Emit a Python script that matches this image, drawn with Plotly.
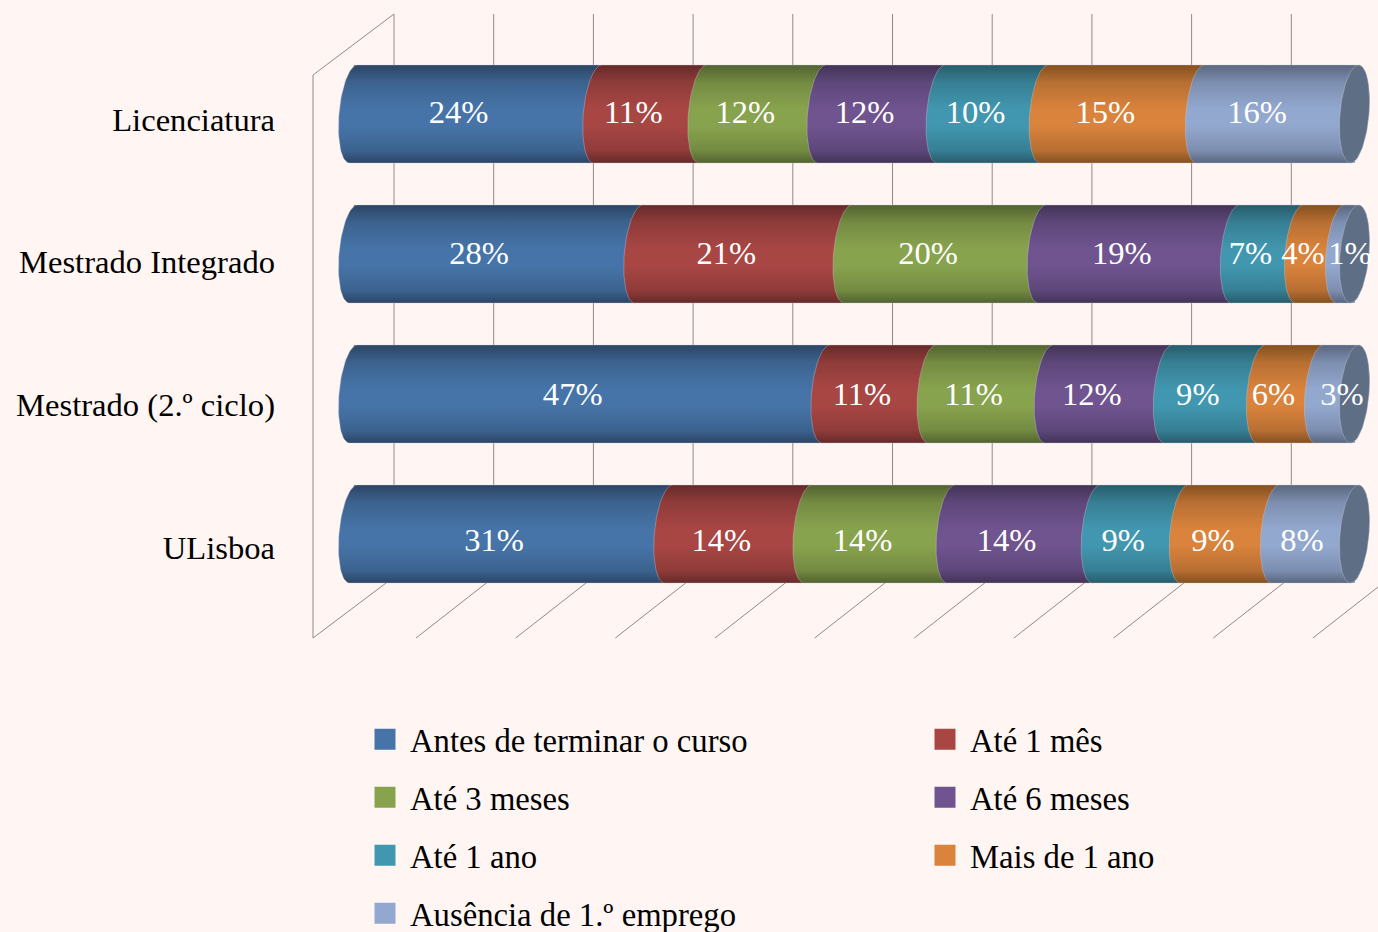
import numpy as np
import plotly.graph_objects as go

categories = ["Licenciatura", "Mestrado Integrado", "Mestrado (2.º ciclo)", "ULisboa"]

antes_de_terminar = [24.4, 28.5, 47.2, 31.5]
ate_1_mes = [10.5, 20.9, 10.6, 13.9]
ate_3_meses = [11.9, 19.4, 11.7, 14.3]
ate_6_meses = [11.9, 19.3, 11.9, 14.5]
ate_1_ano = [10.3, 6.4, 9.3, 8.8]
mais_1_ano = [15.6, 4.1, 5.8, 9.1]
ausencia = [15.4, 1.4, 3.5, 7.9]

labels_antes = ["24%", "28%", "47%", "31%"]
labels_1_mes = ["11%", "21%", "11%", "14%"]
labels_3_meses = ["12%", "20%", "11%", "14%"]
labels_6_meses = ["12%", "19%", "12%", "14%"]
labels_1_ano = ["10%", "7%", "9%", "9%"]
labels_mais = ["15%", "4%", "6%", "9%"]
labels_ausencia = ["16%", "1%", "3%", "8%"]

series_names = ["Antes de terminar o curso", "Até 1 mês", "Até 3 meses", "Até 6 meses",
                "Até 1 ano", "Mais de 1 ano", "Ausência de 1.º emprego"]
series_values = [antes_de_terminar, ate_1_mes, ate_3_meses, ate_6_meses, ate_1_ano, mais_1_ano, ausencia]
series_labels = [labels_antes, labels_1_mes, labels_3_meses, labels_6_meses, labels_1_ano, labels_mais, labels_ausencia]

# (base, shaded edge) colours
colors = ["#4674A8", "#A84644", "#88A34E", "#6F548F", "#4197AF", "#D9833C", "#93A8CF"]
darks = ["#2C4566", "#662A29", "#526330", "#433357", "#275C6B", "#84501F", "#59667E"]
mids = ["#3C638F", "#8F3C3A", "#748B42", "#5E477A", "#377F94", "#B86F33", "#7D8FB0"]
cap_color = "#5E6E85"

W, H = 1378, 932
X0, XS = 353.5, 10.01
Y0, YS = 114.0, 140.0


def dx(p):
    return (p - X0) / XS


def dy(p):
    return (p - Y0) / YS


R, A, SH = 0.35, 1.45, 0.4
T = np.linspace(-np.pi / 2, np.pi / 2, 41)


def arc(c, row, side):
    # side=-1 left half of the tilted ellipse, side=+1 right half (both run bottom -> top)
    x = c + side * A * np.cos(T) + SH * (-np.sin(T))
    y = row + R * np.sin(T)
    return x, y


fig = go.Figure()

# wall / floor grid
gx, gy = [dx(313), dx(313), dx(394), None], [dy(638), dy(75), dy(14), None]
for i in range(1, 10):
    b = 394 + 99.7 * i
    gx += [dx(b), dx(b), None]
    gy += [dy(14), dy(577), None]
gx += [dx(394), dx(394), None]
gy += [dy(14), dy(577), None]
for i in range(0, 11):
    f = 313 if i == 0 else 416 + 99.65 * (i - 1)
    b = 394 if i == 0 else f + 78
    gx += [dx(f), dx(b), None]
    gy += [dy(638), dy(577), None]
fig.add_trace(go.Scatter(x=gx, y=gy, mode="lines", line=dict(color="#8F8A86", width=1),
                         hoverinfo="skip", showlegend=False))

# stacked bars through the library's own stacking
rows = list(range(len(categories)))
for name, vals, col in zip(series_names, series_values, colors):
    fig.add_trace(go.Bar(y=rows, x=vals, orientation="h", name=name, width=2 * R,
                         marker=dict(color=col, line=dict(width=0)), showlegend=False))

# cylinder shading over each bar
cum = np.zeros(len(categories))
label_x, label_y, label_t = [], [], []
row_shift = [-1.0, 0.0, 1.0, 7.0]
for k, (name, vals, labs, col, dark, mid) in enumerate(zip(series_names, series_values, series_labels, colors, darks, mids)):
    for r in rows:
        start, end = cum[r], cum[r] + vals[r]
        lx, ly = arc(start, r, -1)
        rx, ry = arc(end, r, 1)
        px = np.concatenate([lx, rx[::-1], lx[:1]])
        py = np.concatenate([ly, ry[::-1], ly[:1]])
        fig.add_trace(go.Scatter(
            x=px, y=py, mode="lines", fill="toself",
            line=dict(color="rgba(205,205,215,0.45)", width=0.8),
            fillgradient=dict(type="vertical",
                              colorscale=[[0, dark], [0.13, mid], [0.38, col], [0.55, col], [0.82, mid], [1, dark]]),
            hoverinfo="skip", showlegend=False))
        c = (start + end) / 2 - 1.7
        if k == len(series_names) - 1:
            c = {0: dx(1257), 1: dx(1350), 2: dx(1342), 3: dx(1302)}[r]
        label_x.append(c)
        label_y.append(r + row_shift[r] / YS + 2 / YS)
        label_t.append(labs[r])
    cum = cum + np.array(vals)

# end caps
for r in rows:
    t = np.linspace(0, 2 * np.pi, 81)
    fig.add_trace(go.Scatter(
        x=cum[r] + A * np.cos(t) - SH * np.sin(t), y=r + R * np.sin(t),
        mode="lines", fill="toself", fillcolor=cap_color,
        line=dict(color="rgba(205,205,215,0.45)", width=0.8), hoverinfo="skip", showlegend=False))

fig.add_trace(go.Scatter(x=label_x, y=label_y, text=label_t, mode="text",
                         textposition="middle center",
                         textfont=dict(family="Liberation Serif", size=32.6, color="#FFFFFF"),
                         hoverinfo="skip", showlegend=False))

# legend: one native legend per entry so that each can sit where the reference puts it
legend_px = [(360, 739.5), (920, 739.5), (360, 797.5), (920, 797.5), (360, 855.5), (920, 855.5), (360, 913.5)]
legend_layout = {}
for i, (name, col, (lx, ly)) in enumerate(zip(series_names, colors, legend_px)):
    key = "legend" if i == 0 else f"legend{i + 1}"
    fig.add_trace(go.Scatter(x=[None], y=[None], mode="markers", name=name, legend=key,
                             marker=dict(symbol="square", size=16, color=col, line=dict(color=col, width=5))))
    legend_layout[key] = dict(x=lx / W, y=1 - ly / H, xanchor="left", yanchor="middle", itemwidth=40,
                              bgcolor="rgba(0,0,0,0)", borderwidth=0,
                              font=dict(family="Liberation Serif", size=32.7, color="#000000"))

fig.update_layout(
    width=W, height=H, margin=dict(l=0, r=0, t=0, b=0, autoexpand=False), autosize=False,
    paper_bgcolor="#FFF6F3", plot_bgcolor="#FFF6F3",
    barmode="stack", showlegend=True,
    xaxis=dict(range=[dx(0), dx(W)], visible=False, fixedrange=True),
    yaxis=dict(range=[dy(H), dy(0)], anchor="free", position=275 / W,
               tickmode="array", tickvals=[dy(120), dy(262), dy(405), dy(548)], ticktext=categories,
               tickfont=dict(family="Liberation Serif", size=32.6, color="#000000"),
               showgrid=False, zeroline=False, showline=False, ticks="", fixedrange=True),
    **legend_layout,
)

fig.write_html("out.html", config={"displayModeBar": False},
               post_script="document.body.style.margin='0';document.body.style.overflow='hidden';")
